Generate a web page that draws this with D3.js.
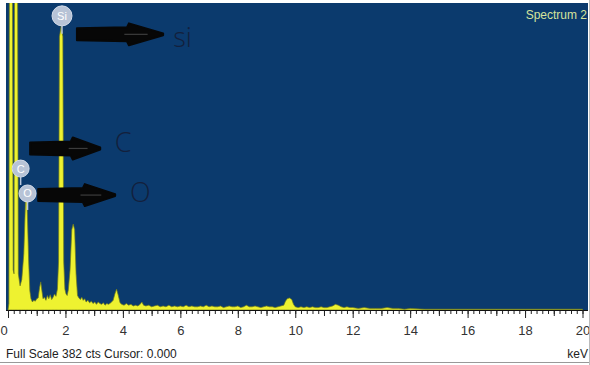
<!DOCTYPE html>
<html>
<head>
<meta charset="utf-8">
<script src="https://cdn.jsdelivr.net/npm/d3@7"></script>
<style>
  body { margin: 0; background: #fff; }
  svg { display: block; }
</style>
</head>
<body>
<div id="chart"></div>
<script>
// spectrum (keV, counts)
const energy = [0.00, 0.03, 0.05, 0.15, 0.18, 0.21, 0.23, 0.33, 0.36, 0.42, 0.48, 0.55, 0.61, 0.66, 0.72, 0.76, 0.80, 0.85,
  0.90, 0.95, 1.00, 1.05, 1.10, 1.14, 1.18, 1.22, 1.27, 1.32, 1.37, 1.42, 1.47, 1.52, 1.57, 1.62, 1.67, 1.72, 1.76, 1.79,
  1.85, 1.91, 1.94, 1.98, 2.02, 2.06, 2.10, 2.16, 2.22, 2.27, 2.32, 2.37, 2.42, 2.47, 2.52, 2.57, 2.62, 2.67, 2.72, 2.78,
  2.84, 2.90, 2.96, 3.02, 3.08, 3.14, 3.20, 3.26, 3.32, 3.38, 3.44, 3.50, 3.58, 3.66, 3.72, 3.78, 3.84, 3.90, 3.96, 4.04,
  4.12, 4.20, 4.28, 4.36, 4.44, 4.52, 4.60, 4.66, 4.72, 4.80, 4.90, 5.00, 5.10, 5.20, 5.30, 5.40, 5.50, 5.60, 5.70, 5.80,
  5.90, 6.00, 6.10, 6.20, 6.30, 6.40, 6.50, 6.60, 6.70, 6.80, 6.90, 7.00, 7.10, 7.20, 7.30, 7.40, 7.50, 7.60, 7.70, 7.80,
  7.90, 8.00, 8.10, 8.20, 8.30, 8.40, 8.50, 8.60, 8.70, 8.80, 8.90, 9.00, 9.10, 9.20, 9.30, 9.40, 9.50, 9.60, 9.66, 9.72,
  9.80, 9.88, 9.94, 10.00, 10.10, 10.20, 10.30, 10.40, 10.50, 10.60, 10.70, 10.80, 10.90, 11.00, 11.10, 11.20, 11.30, 11.40, 11.50, 11.60,
  11.70, 11.80, 11.90, 12.00, 12.20, 12.40, 12.60, 12.80, 13.00, 13.20, 13.40, 13.60, 13.80, 14.00, 14.50, 15.00, 15.50, 16.00, 17.00, 18.00,
  19.00, 20.00]
const counts = [0, 8, 460, 460, 50, 45, 460, 460, 45, 30, 38, 70, 137, 137, 60, 24, 14, 10,
  12, 11, 14, 15, 28, 35, 24, 14, 16, 12, 18, 14, 19, 13, 16, 20, 17, 26, 60, 340,
  353, 340, 60, 26, 20, 18, 25, 50, 100, 107, 100, 45, 18, 15, 13, 16, 12, 14, 10, 12,
  9, 11, 8, 10, 7, 10, 8, 7, 9, 6, 8, 7, 9, 12, 20, 26, 18, 9, 7, 6,
  8, 6, 7, 5, 6, 5, 7, 10, 6, 5, 6, 4, 5, 6, 4, 5, 4, 6, 4, 5,
  4, 5, 4, 6, 4, 5, 4, 4, 5, 4, 6, 4, 5, 4, 4, 5, 3, 4, 5, 4,
  4, 5, 3, 4, 6, 4, 4, 5, 4, 3, 4, 5, 4, 4, 3, 4, 5, 6, 11, 14,
  15, 13, 7, 4, 3, 4, 3, 4, 3, 4, 3, 3, 4, 3, 3, 4, 5, 7, 6, 4,
  3, 4, 3, 3, 2, 3, 2, 2, 2, 3, 2, 2, 1, 2, 1, 1, 1, 1, 1, 1,
  1, 1]

const tickLabels = [0, 2, 4, 6, 8, 10, 12, 14, 16, 18, 20]
const fullScale = 382

// element labels on the peaks
const peakNames = ["Si", "C", "O"]
const peakKeV = [1.88, 0.44, 0.68]
const peakCts = [366, 176, 145]

// hand drawn arrows + big letters
const arrowFrom = [2.40, 0.77, 1.05]
const arrowTo = [5.40, 3.21, 3.73]
const arrowCts = [343, 201, 143]
const noteText = ["si", "C", "O"]
const noteKeV = [5.75, 3.72, 4.25]
const noteCts = [327, 196, 134]

var W = 590, H = 365
var pLeft = 6, pRight = 588, pTop = 3, pBase = 310

var svg = d3.select("#chart").append("svg")
    .attr("width", W)
    .attr("height", H)

svg.append("rect").attr("width", W).attr("height", H).attr("fill", "#fff")

var x = d3.scaleLinear().domain([0, 20]).range([8, 582.5])
var y = d3.scaleLinear().domain([0, fullScale]).range([pBase, pTop])

svg.append("defs").append("clipPath").attr("id", "plot")
    .append("rect")
    .attr("x", pLeft).attr("y", pTop)
    .attr("width", pRight - pLeft).attr("height", pBase - pTop)

// plot background
svg.append("rect")
    .attr("x", pLeft).attr("y", pTop)
    .attr("width", pRight - pLeft).attr("height", pBase - pTop)
    .attr("fill", "#0b3a6d")

// spectrum
var pts = energy.map((e, i) => [e, counts[i]])
var area = d3.area()
    .x(d => x(d[0]))
    .y0(y(0))
    .y1(d => y(d[1]))

svg.append("path")
    .datum(pts)
    .attr("clip-path", "url(#plot)")
    .attr("d", area)
    .attr("fill", "#eef230")
    .attr("stroke", "#6f7a1c")
    .attr("stroke-width", 0.7)
    .attr("stroke-linejoin", "round")

// axis: minor, medium and major ticks
var ax = svg.append("g").attr("transform", "translate(0," + pBase + ")")
ax.append("g")
    .call(d3.axisBottom(x).tickValues(d3.range(0, 101).map(i => i / 5)).tickSize(4).tickFormat(""))
ax.append("g")
    .call(d3.axisBottom(x).tickValues(d3.range(1, 20, 2)).tickSize(6).tickFormat(""))
ax.append("g")
    .call(d3.axisBottom(x).tickValues(tickLabels).tickSize(8).tickPadding(8).tickFormat(d3.format("d")))
ax.selectAll(".domain").attr("stroke", "#111").attr("d", "M" + pLeft + ",0.5H" + pRight)
ax.selectAll(".tick line").attr("stroke", "#222")
ax.selectAll(".tick text")
    .attr("font-family", "Liberation Sans, Arial, sans-serif")
    .attr("font-size", 13)
    .attr("fill", "#333")
ax.selectAll(".tick text").filter(d => d === 0).attr("dx", -4.5)

// peak labels
var lab = svg.append("g")
peakNames.forEach((n, i) => {
    var cx = x(peakKeV[i]), cy = y(peakCts[i])
    var r = n === "Si" ? 10 : 8.5
    lab.append("line")
        .attr("x1", cx).attr("x2", cx)
        .attr("y1", cy + r).attr("y2", cy + r + 8)
        .attr("stroke", "#b9c6da").attr("stroke-width", 1.5)
    lab.append("circle")
        .attr("cx", cx).attr("cy", cy).attr("r", r)
        .attr("fill", "#b7c3d6")
        .attr("stroke", "#d4dcea").attr("stroke-width", 1)
    lab.append("text")
        .attr("x", cx).attr("y", cy + 4)
        .attr("text-anchor", "middle")
        .attr("font-family", "Liberation Sans, Arial, sans-serif")
        .attr("font-size", 11)
        .attr("fill", "#fff")
        .text(n)
})

// arrows
arrowFrom.forEach((a, i) => {
    var x0 = x(a), x1 = x(arrowTo[i]), yc = y(arrowCts[i])
    var xh = x1 - (x1 - x0) * 0.42
    var p = d3.path()
    p.moveTo(x0, yc - 6)
    p.lineTo(xh, yc - 7)
    p.lineTo(xh + 2, yc - 11)
    p.lineTo(x1, yc - 1)
    p.lineTo(x1, yc + 1)
    p.lineTo(xh + 2, yc + 11)
    p.lineTo(xh, yc + 7)
    p.lineTo(x0, yc + 6)
    p.closePath()
    svg.append("path").attr("d", p.toString()).attr("fill", "#070707")
        .attr("stroke", "#070707").attr("stroke-width", 2).attr("stroke-linejoin", "round")
    svg.append("line")
        .attr("x1", x0 + (x1 - x0) * 0.55).attr("x2", x0 + (x1 - x0) * 0.82)
        .attr("y1", yc).attr("y2", yc)
        .attr("stroke", "#3c3c3c").attr("stroke-width", 1.2)
})

noteText.forEach((t, i) => {
    svg.append("text")
        .attr("x", x(noteKeV[i])).attr("y", y(noteCts[i]))
        .attr("font-family", "Open Sans, Liberation Sans, sans-serif")
        .attr("font-weight", 300)
        .attr("font-size", 27)
        .attr("fill", "#13203c")
        .text(t)
})

// captions
svg.append("text")
    .attr("x", 587).attr("y", 19)
    .attr("text-anchor", "end")
    .attr("font-family", "Liberation Sans, Arial, sans-serif")
    .attr("font-size", 12)
    .attr("fill", "#d5e39c")
    .text("Spectrum 2")

svg.append("text")
    .attr("x", 6).attr("y", 358)
    .attr("font-family", "Liberation Sans, Arial, sans-serif")
    .attr("font-size", 12)
    .attr("fill", "#222")
    .text("Full Scale " + fullScale + " cts Cursor: 0.000")

svg.append("text")
    .attr("x", 588).attr("y", 358)
    .attr("text-anchor", "end")
    .attr("font-family", "Liberation Sans, Arial, sans-serif")
    .attr("font-size", 12)
    .attr("fill", "#222")
    .text("keV")

// frame
svg.append("line").attr("x1", 0).attr("x2", W).attr("y1", 362.5).attr("y2", 362.5).attr("stroke", "#999")
svg.append("line").attr("x1", 589.5).attr("x2", 589.5).attr("y1", 0).attr("y2", H).attr("stroke", "#bbb")
</script>
</body>
</html>
